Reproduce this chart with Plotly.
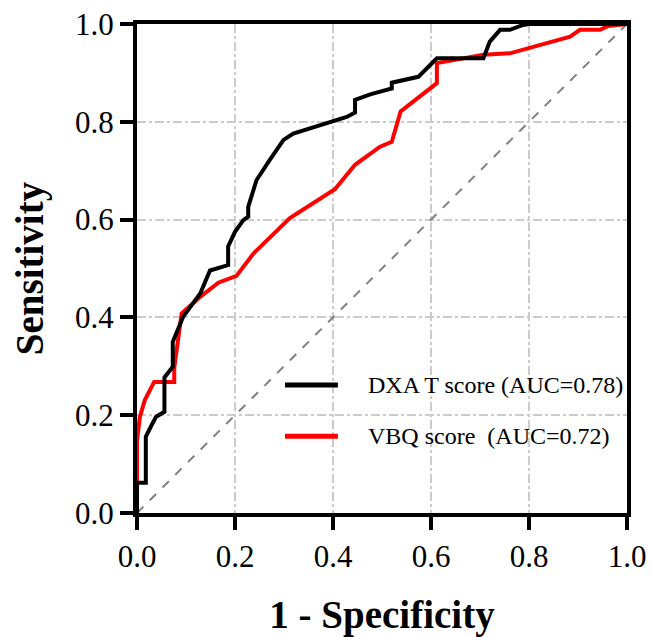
import plotly.graph_objects as go

# DXA T score ROC curve (1 - specificity, sensitivity)
dxa_fpr = [0, 0, 0.018, 0.018, 0.03, 0.039, 0.056, 0.056, 0.073, 0.073, 0.094, 0.129, 0.149,
           0.186, 0.186, 0.2, 0.217, 0.227, 0.227, 0.244, 0.271, 0.299, 0.319, 0.428, 0.445,
           0.445, 0.476, 0.52, 0.52, 0.574, 0.612, 0.707, 0.72, 0.741, 0.761, 0.788, 0.8, 1.0]
dxa_tpr = [0, 0.062, 0.062, 0.156, 0.18, 0.197, 0.207, 0.277, 0.299, 0.35, 0.401, 0.449, 0.496,
           0.507, 0.545, 0.575, 0.599, 0.606, 0.626, 0.681, 0.722, 0.763, 0.776, 0.81, 0.819,
           0.845, 0.856, 0.868, 0.88, 0.892, 0.93, 0.93, 0.964, 0.988, 0.988, 0.998, 1.0, 1.0]

# VBQ score ROC curve
vbq_fpr = [0, 0, 0, 0.006, 0.016, 0.035, 0.076, 0.076, 0.091, 0.129, 0.166, 0.203, 0.238, 0.312,
           0.404, 0.445, 0.496, 0.52, 0.538, 0.612, 0.612, 0.707, 0.761, 0.884, 0.904, 0.945,
           0.962, 1.0]
vbq_tpr = [0, 0.067, 0.149, 0.197, 0.231, 0.268, 0.268, 0.296, 0.408, 0.442, 0.471, 0.485, 0.531,
           0.603, 0.662, 0.712, 0.749, 0.759, 0.821, 0.879, 0.92, 0.937, 0.94, 0.974, 0.988, 0.988,
           0.996, 1.0]

ref_line = [0, 1]
tick_vals = [0.0, 0.2, 0.4, 0.6, 0.8, 1.0]
tick_text = ["0.0", "0.2", "0.4", "0.6", "0.8", "1.0"]
legend_labels = ["DXA T score (AUC=0.78)", "VBQ score  (AUC=0.72)"]
series_colors = ["#000000", "#ff0000"]

FONT = "Liberation Serif, Times New Roman, serif"

fig = go.Figure()
fig.add_trace(go.Scatter(x=ref_line, y=ref_line, mode="lines",
                         line=dict(color="#808080", width=2, dash="dash"),
                         showlegend=False, hoverinfo="skip"))
fig.add_trace(go.Scatter(x=vbq_fpr, y=vbq_tpr, mode="lines", name=legend_labels[1],
                         line=dict(color=series_colors[1], width=4), showlegend=False))
fig.add_trace(go.Scatter(x=dxa_fpr, y=dxa_tpr, mode="lines", name=legend_labels[0],
                         line=dict(color=series_colors[0], width=4), showlegend=False))

# manual legend
leg_y = [0.262, 0.157]
for lab, col, yy in zip(legend_labels, series_colors, leg_y):
    fig.add_shape(type="line", xref="x domain", yref="y domain",
                  x0=0.302, x1=0.41, y0=yy, y1=yy,
                  line=dict(color=col, width=5))
    fig.add_annotation(xref="x domain", yref="y domain", x=0.467, y=yy,
                       text=lab, showarrow=False, xanchor="left", yanchor="middle",
                       font=dict(family=FONT, size=24, color="black"))

axis_common = dict(
    range=[0, 1], tickvals=tick_vals, ticktext=tick_text,
    showline=True, linecolor="black", linewidth=4, mirror=True,
    ticks="outside", ticklen=13, tickwidth=4, tickcolor="black",
    showgrid=True, gridcolor="#cccccc", gridwidth=1.5, griddash="dashdot",
    zeroline=False, automargin=False, ticklabeloverflow="allow",
    tickfont=dict(family=FONT, size=31, color="black"),
)

fig.update_xaxes(**axis_common,
                 title=dict(text="<b>1 - Specificity</b>", standoff=37,
                            font=dict(family=FONT, size=39, color="black")))
fig.update_yaxes(**axis_common,
                 title=dict(text="<b>Sensitivity</b>", standoff=20,
                            font=dict(family=FONT, size=39, color="black")))

fig.update_layout(
    width=651, height=637,
    margin=dict(l=137, r=24, t=24, b=124),
    plot_bgcolor="white", paper_bgcolor="white",
    showlegend=False,
)

# remove the default page margin so the figure fills the window exactly
fig.write_html(
    "out.html",
    config={"displayModeBar": False},
    post_script="document.body.style.margin='0';document.body.style.overflow='hidden';",
)
